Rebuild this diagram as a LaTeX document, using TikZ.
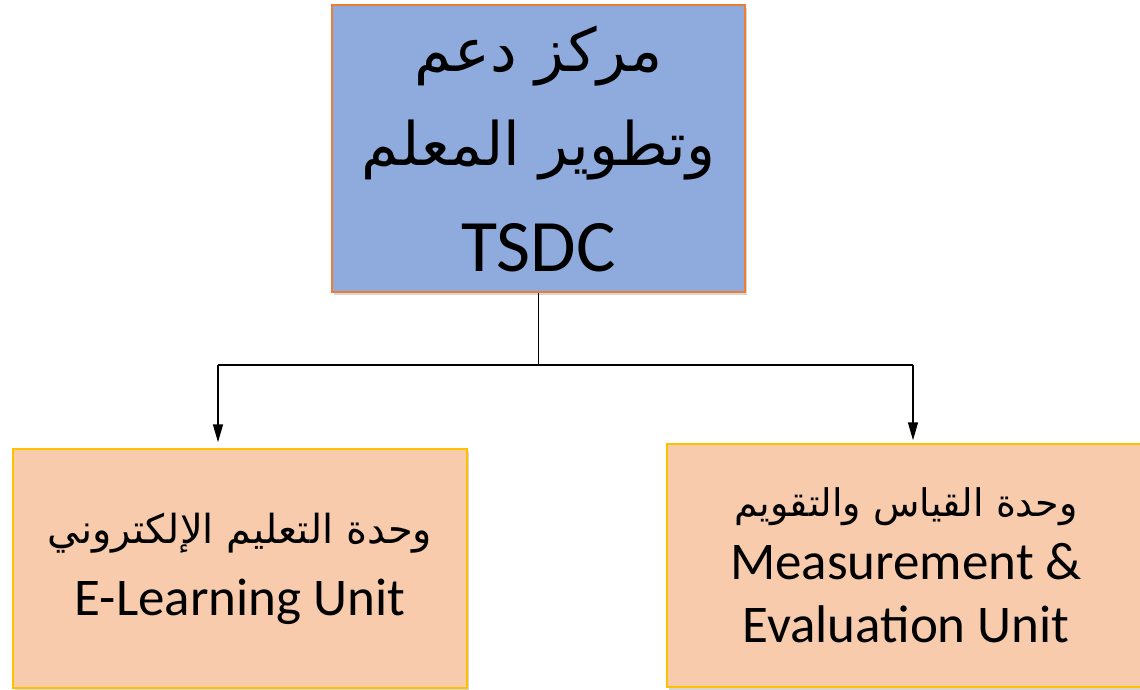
\documentclass[tikz,border=0pt]{standalone}
\usepackage{fontspec}
\setmainfont{Carlito}
\newfontfamily\arabicfont[Script=Arabic]{DejaVu Sans}
\TeXXeTstate=1
\usetikzlibrary{arrows.meta,shadows}

\definecolor{centreblue}{HTML}{8FAADC}
\definecolor{centreedge}{HTML}{ED7D31}
\definecolor{unitfill}{HTML}{F8CBAD}
\definecolor{unitedge}{HTML}{FFC000}

\begin{document}
\begin{tikzpicture}[x=1pt,y=-1pt,
  boxshadow/.style={drop shadow={shadow xshift=2pt,shadow yshift=-3pt,fill=black!40,opacity=0.4}},
  centre/.style={draw=centreedge,fill=centreblue,line width=1.5pt,boxshadow,
    align=center,inner sep=0pt},
  unit/.style={draw=unitedge,fill=unitfill,line width=1.5pt,boxshadow,
    align=center,inner sep=0pt},
  link/.style={line width=1.6pt},
  arrow/.style={link,-{Triangle[length=18pt,width=10pt]}}]
\useasboundingbox (0,0) rectangle (1140,689);
\node[centre,minimum width=413pt,minimum height=287pt,
  font=\fontsize{74}{100}\selectfont] (tsdc) at (538.5,148.5)
  {{\arabicfont\fontsize{60}{88}\selectfont\beginR مركز دعم\endR}\\[-6pt]
   {\arabicfont\fontsize{60}{88}\selectfont\beginR وتطوير المعلم\endR}\\[6pt]
   TSDC};
\node[unit,minimum width=454pt,minimum height=239pt,
  font=\fontsize{53}{60}\selectfont] (elearn) at (240,568.5)
  {\mbox{}\\[-28pt]
   {\arabicfont\fontsize{40}{60}\selectfont\beginR وحدة التعليم الإلكتروني\endR}\\[12pt]
   E-Learning Unit};
\node[unit,minimum width=478pt,minimum height=243pt,
  font=\fontsize{53}{63}\selectfont] (measure) at (906,565.5)
  {{\arabicfont\fontsize{38}{66}\selectfont\beginR وحدة القياس والتقويم\endR}\\
   Measurement \&\\
   Evaluation Unit};
% connectors
\coordinate (fork) at (tsdc.south |- 0,365);
\coordinate (forkL) at (218,365);
\coordinate (forkR) at (913,365);
\draw[link] (tsdc.south) -- (fork);
\draw[link] (forkL) -- (forkR);
\draw[arrow,shorten >=6pt] (forkL) -- (forkL |- elearn.north);
\draw[arrow,shorten >=3pt] (forkR) -- (forkR |- measure.north);
\end{tikzpicture}
\end{document}
